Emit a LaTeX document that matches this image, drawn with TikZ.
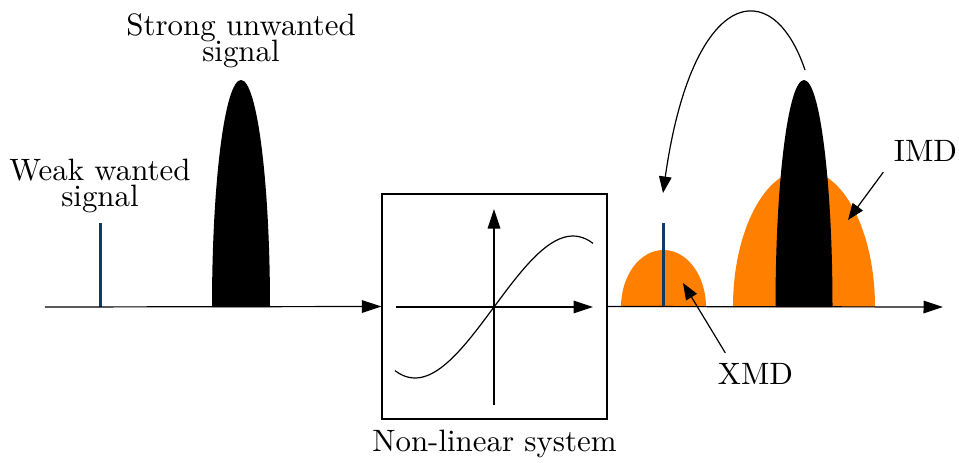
\documentclass[tikz,border=0pt]{standalone}
\usetikzlibrary{arrows.meta,positioning}
\definecolor{Wanted}{HTML}{0E3B63}
\definecolor{Distort}{HTML}{FF7F00}
\tikzset{
 axis/.style={-{Triangle[length=6.5pt,width=4.2pt]}},
 pointer/.style={-{Triangle[length=5.5pt,width=4.2pt]}},
 sigtext/.style={align=center},
 tone/.style={draw=Wanted, line width=1pt},
 spur/.style={fill=Distort},
 strong/.style={fill=black}
}

\begin{document}
\begin{tikzpicture}[x=0.3333pt,y=0.3333pt,font=\fontsize{10.3}{12.4}\selectfont]
\useasboundingbox (0,0) rectangle (959,462);
% input spectrum
\fill[strong] (212,155) arc[start angle=180,end angle=0,x radius=29,y radius=227] -- cycle;
\coordinate (strongtop) at (241,382);
\draw[tone] (100,155) -- (100,239) coordinate (weaktop);
\node[sigtext,above=0pt of weaktop] (weak) {Weak wanted\\[-3.8pt]signal};
\node[sigtext,above=0.5pt of strongtop] (strong) {Strong unwanted\\[-3.8pt]signal};
% system block
\node[draw,minimum size=75pt,inner sep=0pt] (sys) at (494.5,155.5) {};
\node[below=0pt of sys] (syslabel) {Non-linear system};
\draw[axis] (45,155) -- (sys.west);
\draw[axis] (396,155) -- (593,155);
\draw[axis] (494,57) -- (494,253);
\draw plot[domain=-1.253:1.253,samples=60,smooth] ({494+79*\x},{155+35.5*(3*\x-\x*\x*\x)});
% output spectrum
\fill[spur] (733,155) arc[start angle=180,end angle=0,x radius=71,y radius=137] -- cycle;
\fill[strong] (775.5,155) arc[start angle=180,end angle=0,x radius=28.5,y radius=227] -- cycle;
\fill[spur] (621,155) arc[start angle=180,end angle=0,x radius=42.5,y radius=57] -- cycle;
\draw[tone] (663,155) -- (663,239);
\draw[axis] (sys.east) -- (943,155);
\coordinate (imdpeak) at (805,392);
\coordinate (xmdmark) at (663,269);
\coordinate (imdtip) at (848,242);
\coordinate (xmdtip) at (683,179);
\node (imd) at (925.5,311) {IMD};
\node (xmd) at (755.5,88) {XMD};
\draw[pointer] (imd.south west) -- (imdtip);
\draw[pointer] (xmd.145) -- (xmdtip);
\draw[pointer] (imdpeak) .. controls (772,490) and (692,474) .. (xmdmark);
\end{tikzpicture}
\end{document}
